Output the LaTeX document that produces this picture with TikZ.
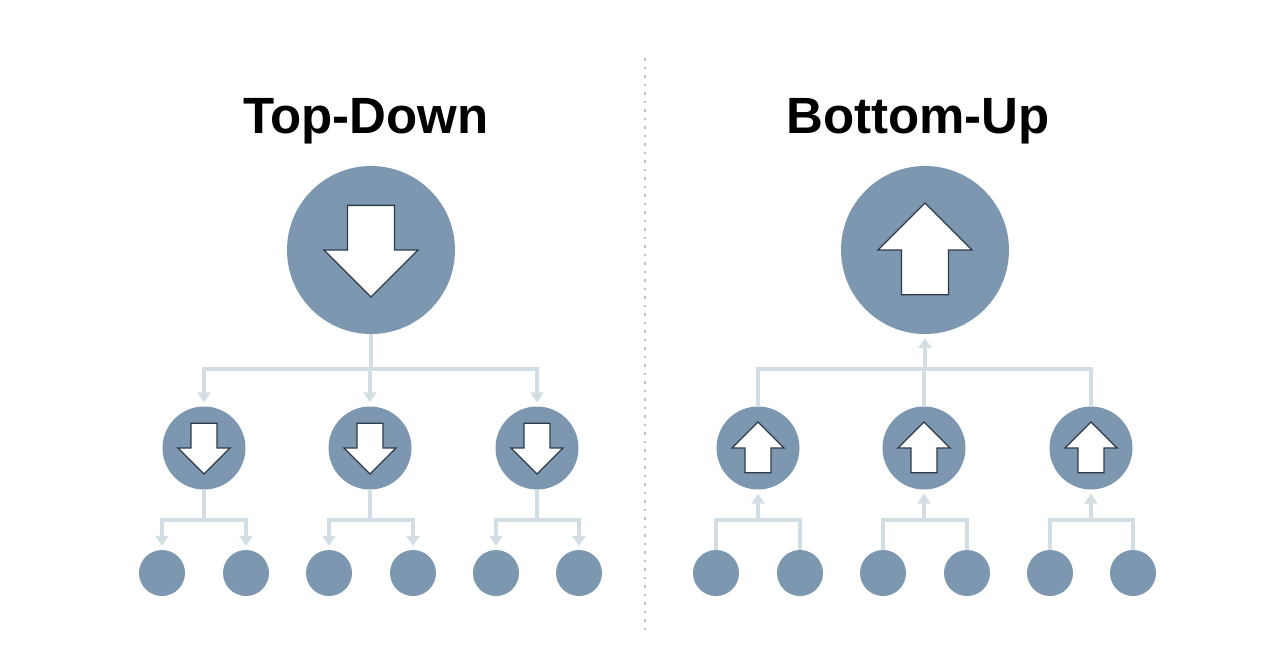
\documentclass[tikz,border=0pt]{standalone}
\usepackage{fontspec}
\setmainfont{Liberation Sans}
\usetikzlibrary{arrows.meta}
\tikzstyle{diagram} = [x = 1pt, y = -1pt]
\definecolor{nodeColor}{RGB}{124,151,175}
\definecolor{linkColor}{RGB}{210,222,227}
\definecolor{outlineColor}{RGB}{45,58,74}
\definecolor{dotColor}{RGB}{190,195,198}
\tikzstyle{bigNode} = [circle, fill=nodeColor, minimum size=168pt, inner sep=0pt]
\tikzstyle{midNode} = [circle, fill=nodeColor, minimum size=83pt, inner sep=0pt]
\tikzstyle{leafNode} = [circle, fill=nodeColor, minimum size=46pt, inner sep=0pt]
\tikzstyle{linkLine} = [color=linkColor, line width=4pt]
\tikzstyle{linkBar} = [linkLine, line cap=rect]
\tikzstyle{linkArrow} = [linkLine, -{Triangle[width=13pt,length=10pt]}, shorten >=4pt]
\tikzstyle{arrowGlyph} = [fill=white, draw=outlineColor, line width=1.3pt, line join=miter]
\tikzstyle{titleText} = [font=\bfseries\fontsize{51}{60}\selectfont, anchor=base]
\tikzstyle{dotLine} = [color=dotColor, line width=2.5pt, dash pattern=on 2.5pt off 6pt]
\newcommand{\blockArrow}[3]{\filldraw [arrowGlyph, shift={(#1.center)}, scale=#2, yscale=#3] (-.5,-.95) -- (.5,-.95) -- (.5,0) -- (1,0) -- (0,1) -- (-1,0) -- (-.5,0) -- cycle;}
\newcommand{\treeNodes}[2]{
  \node [bigNode] (#1Root) at (#2 + 371, 250) {};
  \foreach \i/\x in {1/204,2/370,3/537} {
    \node [midNode] (#1Mid\i) at (#2 + \x, 448) {};
  }
  \foreach \i/\x in {1/162,2/246,3/329,4/413,5/496,6/579} {
    \node [leafNode] (#1Leaf\i) at (#2 + \x, 573) {};
  }
  \coordinate (#1Join) at (#2 + 371, 369);
  \coordinate (#1Fork) at (#2, 520);
}

\begin{document}
\begin{tikzpicture}[diagram]
  \path [fill=white] (0,0) rectangle (1280,670);
  \draw [dotLine] (645,58) -- (645,630);
  \node [titleText] (tdTitle) at (366,133) {Top-Down};
  \node [titleText] (buTitle) at (918,133) {Bottom-Up};
  % top-down tree
  \treeNodes{td}{0}
  \draw [linkLine] (tdRoot) -- (tdJoin);
  \draw [linkBar] (tdJoin -| tdMid1) -- (tdJoin -| tdMid3);
  \foreach \i/\a/\b in {1/1/2,2/3/4,3/5/6} {
    \draw [linkArrow] (tdJoin -| tdMid\i) -- (tdMid\i);
    \draw [linkLine] (tdMid\i) -- (tdMid\i |- tdFork);
    \draw [linkBar] (tdLeaf\a |- tdFork) -- (tdLeaf\b |- tdFork);
    \draw [linkArrow] (tdLeaf\a |- tdFork) -- (tdLeaf\a);
    \draw [linkArrow] (tdLeaf\b |- tdFork) -- (tdLeaf\b);
    \blockArrow{tdMid\i}{26}{1}
  }
  \blockArrow{tdRoot}{47}{1}
  % bottom-up tree
  \treeNodes{bu}{554}
  \draw [linkArrow] (buJoin) -- (buRoot);
  \draw [linkBar] (buJoin -| buMid1) -- (buJoin -| buMid3);
  \foreach \i/\a/\b in {1/1/2,2/3/4,3/5/6} {
    \draw [linkLine] (buMid\i) -- (buJoin -| buMid\i);
    \draw [linkLine] (buLeaf\a) -- (buLeaf\a |- buFork);
    \draw [linkLine] (buLeaf\b) -- (buLeaf\b |- buFork);
    \draw [linkBar] (buLeaf\a |- buFork) -- (buLeaf\b |- buFork);
    \draw [linkArrow] (buMid\i |- buFork) -- (buMid\i);
    \blockArrow{buMid\i}{26}{-1}
  }
  \blockArrow{buRoot}{47}{-1}
\end{tikzpicture}
\end{document}
